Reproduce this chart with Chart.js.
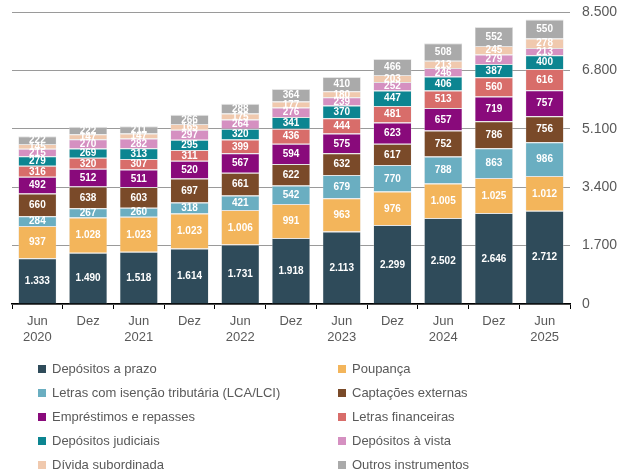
<!DOCTYPE html>
<html>
<head>
<meta charset="utf-8">
<script src="https://cdn.jsdelivr.net/npm/chart.js@4.4.1/dist/chart.umd.min.js"></script>
<style>
html,body{margin:0;padding:0;background:#fff;}
#wrap{position:relative;width:618px;height:475px;}
</style>
</head>
<body>
<div id="wrap"><canvas id="c" width="618" height="475"></canvas></div>
<script>
const categories = [["Jun","2020"],["Dez"],["Jun","2021"],["Dez"],["Jun","2022"],["Dez"],["Jun","2023"],["Dez"],["Jun","2024"],["Dez"],["Jun","2025"]];
const seriesNames = ["Depósitos a prazo","Poupança","Letras com isenção tributária (LCA/LCI)","Captações externas","Empréstimos e repasses","Letras financeiras","Depósitos judiciais","Depósitos à vista","Dívida subordinada","Outros instrumentos"];
const depositosPrazo = [1333,1490,1518,1614,1731,1918,2113,2299,2502,2646,2712];
const poupanca = [937,1028,1023,1023,1006,991,963,976,1005,1025,1012];
const lcaLci = [284,267,260,318,421,542,679,770,788,863,986];
const captacoesExternas = [660,638,603,697,661,622,632,617,752,786,756];
const emprestimos = [492,512,511,520,567,594,575,623,657,719,757];
const letrasFinanceiras = [316,320,307,311,399,436,444,481,513,560,616];
const depositosJudiciais = [279,269,313,295,320,341,370,447,406,387,400];
const depositosVista = [215,270,282,297,264,276,239,252,246,279,213];
const dividaSubordinada = [145,147,147,165,175,177,180,203,213,245,278];
const outros = [222,222,211,266,288,364,410,466,508,552,550];
const yTicks = [0,1700,3400,5100,6800,8500];

const seriesValues = [depositosPrazo,poupanca,lcaLci,captacoesExternas,emprestimos,letrasFinanceiras,depositosJudiciais,depositosVista,dividaSubordinada,outros];
const colors = ["#2f4b5a","#f3b55b","#6aaec1","#7a4a29","#890a7b","#d86d6a","#0c8591","#d590c1","#f0c9ae","#aaaaaa"];

function fmt(n){
  const s = String(Math.round(n));
  return s.replace(/\B(?=(\d{3})+(?!\d))/g, ".");
}

const dataLabels = {
  id:'dataLabels',
  afterDatasetsDraw(chart){
    const ctx = chart.ctx;
    ctx.save();
    ctx.fillStyle = '#ffffff';
    ctx.font = 'bold 10px "Liberation Sans", Arial, sans-serif';
    ctx.textAlign = 'center';
    ctx.textBaseline = 'middle';
    chart.data.datasets.forEach((ds,i)=>{
      const meta = chart.getDatasetMeta(i);
      meta.data.forEach((el,j)=>{
        const y = (el.y + el.base)/2;
        ctx.fillText(fmt(ds.data[j]), el.x, y+0.5);
      });
    });
    ctx.restore();
  }
};

const twoColLegend = {
  id:'twoColLegend',
  afterDraw(chart){
    const ctx = chart.ctx;
    ctx.save();
    ctx.font = '13px "Liberation Sans", Arial, sans-serif';
    ctx.textBaseline = 'middle';
    ctx.textAlign = 'left';
    const colX = [38, 338];
    const rowY0 = 369, rowStep = 24;
    chart.data.datasets.forEach((ds,i)=>{
      const col = i % 2, row = Math.floor(i/2);
      const x = colX[col], y = rowY0 + row*rowStep;
      ctx.fillStyle = ds.backgroundColor;
      ctx.fillRect(x, y-4, 8, 8);
      ctx.fillStyle = '#595959';
      ctx.fillText(ds.label, x+14, y);
    });
    ctx.restore();
  }
};

new Chart(document.getElementById('c'), {
  type:'bar',
  data:{
    labels: categories,
    datasets: seriesNames.map((name,i)=>({
      label:name,
      data:seriesValues[i],
      backgroundColor:colors[i],
      borderColor:'rgba(225,225,225,0.9)',
      borderWidth:{top:1,left:0.5,right:0.5,bottom:0},
      barPercentage:0.75,
      categoryPercentage:1
    }))
  },
  options:{
    responsive:false,
    animation:false,
    devicePixelRatio:1,
    layout:{padding:{left:12,top:12,right:0,bottom:0}},
    plugins:{legend:{display:false},tooltip:{enabled:false}},
    scales:{
      x:{
        stacked:true,
        offset:true,
        grid:{display:true,drawOnChartArea:false,offset:true,color:'#000000',tickLength:5,lineWidth:1},
        border:{display:true,color:'#000000',width:1.5},
        ticks:{color:'#595959',font:{family:'"Liberation Sans", Arial, sans-serif',size:13},padding:5,maxRotation:0,autoSkip:false},
        afterFit(scale){scale.height = 171; scale.paddingLeft = 0; scale.paddingRight = 0;}
      },
      y:{
        stacked:true,
        position:'right',
        min:0,max:8500,
        afterBuildTicks(scale){scale.ticks = yTicks.map(v=>({value:v}));},
        grid:{color:'#9a9a9a',lineWidth:1,tickLength:0,drawTicks:false},
        border:{display:false},
        ticks:{color:'#595959',font:{family:'"Liberation Sans", Arial, sans-serif',size:14},padding:12,crossAlign:'near',callback:(v)=>fmt(v)},
        afterFit(scale){scale.width = 48; scale.paddingTop = 0; scale.paddingBottom = 0;}
      }
    }
  },
  plugins:[dataLabels,twoColLegend]
});
</script>
</body>
</html>
